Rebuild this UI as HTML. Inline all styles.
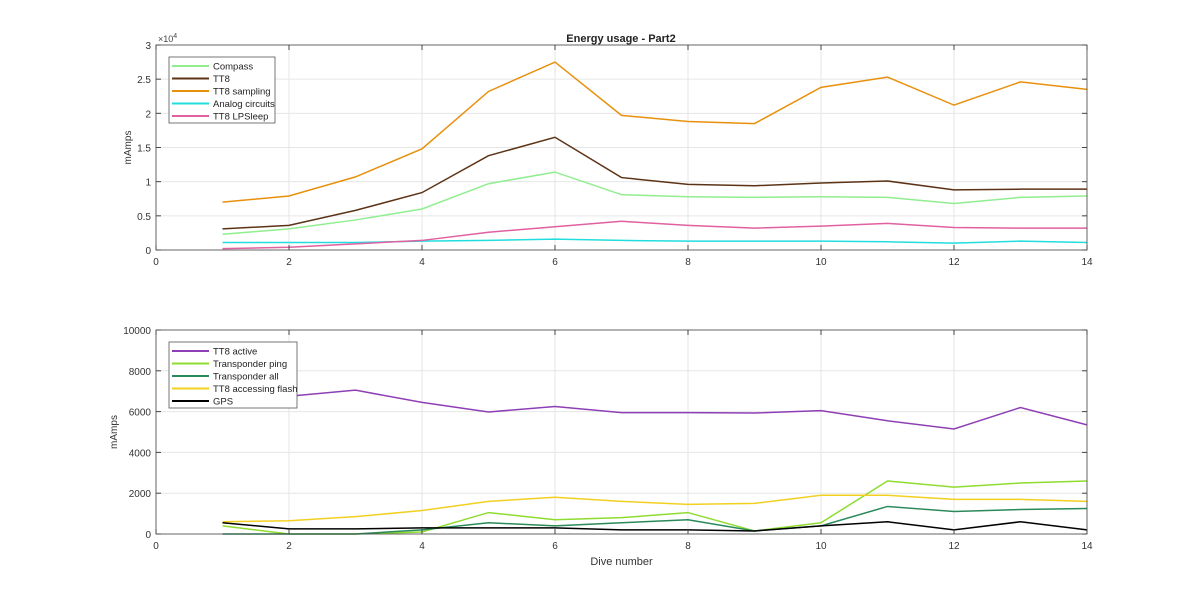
<!DOCTYPE html>
<html><head><meta charset="utf-8"><style>
body{margin:0;background:#fff;}
svg{display:block;font-family:"Liberation Sans",sans-serif;}
</style></head><body>
<svg id="chart" width="1200" height="601">
<text x="621" y="42" text-anchor="middle" font-size="11" font-weight="bold" fill="#222">Energy usage - Part2</text>
<g id="top"></g>
<g id="bot"></g>
</svg>
<script>
const dives=[1,2,3,4,5,6,7,8,9,10,11,12,13,14];
const xTicks=[0,2,4,6,8,10,12,14];
const topTicks=[0,0.5,1,1.5,2,2.5,3];
const topTickLabels=['0','0.5','1','1.5','2','2.5','3'];
const botTicks=[0,2000,4000,6000,8000,10000];
const botTickLabels=['0','2000','4000','6000','8000','10000'];
const topNames=['Compass','TT8','TT8 sampling','Analog circuits','TT8 LPSleep'];
const topColors=['#90ee90','#5c3317','#e8900c','#22dddd','#e060a0'];
const compass=[2300,3100,4400,6000,9700,11400,8100,7800,7700,7800,7700,6800,7700,7900];
const tt8=[3100,3600,5800,8400,13800,16500,10600,9600,9400,9800,10100,8800,8900,8900];
const tt8Sampling=[7000,7900,10700,14800,23200,27500,19700,18800,18500,23800,25300,21200,24600,23500];
const analog=[1100,1100,1100,1300,1400,1600,1400,1300,1300,1300,1200,1000,1300,1100];
const lpsleep=[200,400,900,1400,2600,3400,4200,3600,3200,3500,3900,3300,3200,3200];
const botNames=['TT8 active','Transponder ping','Transponder all','TT8 accessing flash','GPS'];
const botColors=['#8e3fb5','#8fdc30','#2a8a5a','#f2d020','#000000'];
const tt8Active=[6500,6750,7050,6450,5980,6250,5950,5950,5930,6050,5550,5150,6200,5350];
const transPing=[400,0,0,100,1050,700,800,1050,150,550,2600,2300,2500,2600];
const transAll=[0,0,0,200,550,400,550,700,150,400,1350,1100,1200,1250];
const flash=[600,650,850,1150,1600,1800,1600,1450,1500,1900,1900,1700,1700,1600];
const gps=[550,250,250,300,300,300,200,200,150,400,600,200,600,200];

const NS='http://www.w3.org/2000/svg';
function mk(p,t,a){const e=document.createElementNS(NS,t);for(const k in a)e.setAttribute(k,a[k]);p.appendChild(e);return e;}
const X0=156,X1=1087;
const xs=v=>X0+(v-0)/(14-0)*(X1-X0);
function axes(g,top,bottom,ymax,ticks,labels,series,names,colors,legY,legW,showXLabel,exp){
  const ys=v=>bottom-v/ymax*(bottom-top);
  mk(g,'rect',{x:X0,y:top,width:X1-X0,height:bottom-top,fill:'#fff'});
  xTicks.forEach(t=>{const l=mk(g,'line',{x1:xs(t),x2:xs(t),y1:top,y2:bottom,stroke:'#e6e6e6'});});
  ticks.forEach(t=>{const l=mk(g,'line',{x1:X0,x2:X1,y1:ys(t*(exp?1e4:1)),y2:ys(t*(exp?1e4:1)),stroke:'#e6e6e6'});});
  series.forEach((s,i)=>{
    const p=mk(g,'polyline',{points:s.map((v,j)=>xs(dives[j])+','+ys(v)).join(' '),fill:'none',stroke:colors[i],'stroke-width':1.5});
    
    
  });
  mk(g,'rect',{x:X0,y:top,width:X1-X0,height:bottom-top,fill:'none',stroke:'#444','stroke-width':0.8});
  xTicks.forEach(t=>{
    mk(g,'line',{x1:xs(t),x2:xs(t),y1:bottom,y2:bottom-5,stroke:'#444'});
    mk(g,'line',{x1:xs(t),x2:xs(t),y1:top,y2:top+5,stroke:'#444'});
    const tx=mk(g,'text',{x:xs(t),y:bottom+15,'text-anchor':'middle','font-size':10,fill:'#333'});tx.textContent=t;
    
  });
  ticks.forEach((t,i)=>{
    const y=ys(t*(exp?1e4:1));
    mk(g,'line',{x1:X0,x2:X0+5,y1:y,y2:y,stroke:'#444'});
    mk(g,'line',{x1:X1,x2:X1-5,y1:y,y2:y,stroke:'#444'});
    const tx=mk(g,'text',{x:X0-5,y:y+4,'text-anchor':'end','font-size':10,fill:'#333'});tx.textContent=labels[i];
    
  });
  if(exp){const e=mk(g,'text',{x:X0+2,y:top-3,'font-size':9,fill:'#444'});e.innerHTML='×10<tspan font-size="7" dy="-4">4</tspan>';
    }
  const yl=mk(g,'text',{transform:`translate(${exp?131:117},${(top+bottom)/2}) rotate(-90)`,'text-anchor':'middle','font-size':10,fill:'#333'});yl.textContent='mAmps';
  
  if(showXLabel){const xl=mk(g,'text',{x:(X0+X1)/2,y:bottom+31,'text-anchor':'middle','font-size':11,fill:'#333'});xl.textContent='Dive number';
    }
  const lg=mk(g,'g',{});
  mk(lg,'rect',{x:169,y:legY,width:legW,height:66,fill:'#fff',stroke:'#555','stroke-width':0.8});
  names.forEach((n,i)=>{
    const y=legY+9+i*12.5;
    const en=mk(lg,'g',{});
    mk(en,'line',{x1:172,x2:209,y1:y,y2:y,stroke:colors[i],'stroke-width':2});
    const t=mk(en,'text',{x:213,y:y+3.5,'font-size':9.5,fill:'#222'});t.textContent=n;
  });
}
axes(document.getElementById('top'),45,250,30000,topTicks,topTickLabels,[compass,tt8,tt8Sampling,analog,lpsleep],topNames,topColors,57,106,false,true);
axes(document.getElementById('bot'),330,534,10000,botTicks,botTickLabels,[tt8Active,transPing,transAll,flash,gps],botNames,botColors,342,128,true,false);
</script>
</body></html>
